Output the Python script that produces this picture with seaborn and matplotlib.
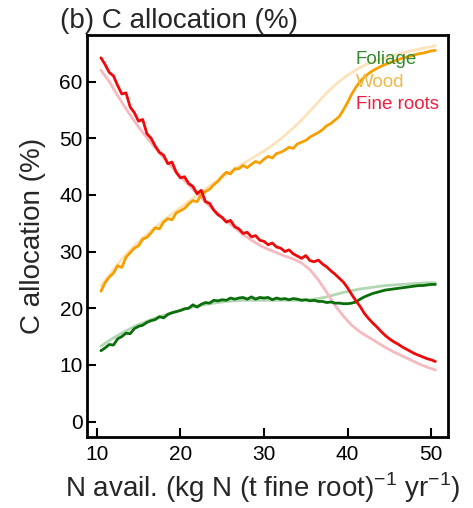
import numpy as np
import pandas as pd
import matplotlib
matplotlib.use("Agg")
import matplotlib.pyplot as plt
import seaborn as sns

# x grids
x_fine = list(np.arange(10.5, 50.51, 0.5))
x_smooth = list(np.arange(10.5, 50.51, 1.0))

fine_roots = [64.2, 63.0, 61.6, 61.0, 59.3, 57.8, 58.0, 55.5, 54.5, 53.0,
              53.3, 50.8, 50.0, 48.6, 47.5, 47.0, 45.5, 45.8, 44.0, 43.0,
              43.2, 42.0, 41.5, 40.2, 40.8, 38.8, 38.5, 37.3, 36.5, 36.0,
              35.2, 35.5, 34.4, 34.0, 33.2, 33.4, 32.6, 32.8, 32.0, 31.8,
              31.2, 31.5, 30.8, 30.6, 30.0, 30.3, 29.6, 29.2, 28.8, 29.3,
              28.4, 28.2, 28.5, 27.8, 27.3, 26.6, 26.0, 25.3, 24.6, 23.6,
              22.4, 21.3, 20.3, 19.1, 18.2, 17.4, 16.7, 15.9, 15.2, 14.6,
              14.1, 13.7, 13.2, 12.8, 12.4, 12.0, 11.7, 11.4, 11.1, 10.9,
              10.6]
wood = [23.0, 24.5, 25.5, 26.2, 27.5, 27.2, 29.0, 29.8, 30.6, 31.0,
        32.2, 32.5, 33.3, 34.2, 34.0, 35.2, 35.8, 35.6, 36.8, 37.2,
        37.6, 38.4, 39.0, 38.8, 40.0, 40.6, 41.0, 41.8, 42.4, 43.3,
        44.0, 43.7, 44.6, 44.6, 45.2, 44.8, 45.4, 45.9, 45.6, 46.3,
        46.8, 46.5, 47.3, 47.5, 47.9, 48.4, 48.2, 49.0, 49.3, 49.6,
        50.2, 50.6, 51.0, 51.5, 52.2, 52.6, 53.2, 53.8, 55.0, 56.3,
        57.8, 59.0, 60.0, 60.8, 61.4, 61.9, 62.3, 62.7, 63.0, 63.3,
        63.6, 63.8, 64.1, 64.3, 64.5, 64.7, 64.9, 65.0, 65.2, 65.4,
        65.5]
foliage = [12.5, 13.0, 13.6, 13.5, 14.6, 15.0, 15.6, 15.5, 16.4, 16.8,
           17.0, 17.5, 17.8, 18.0, 18.5, 18.3, 18.9, 19.2, 19.4, 19.6,
           19.9, 20.0, 20.6, 20.2, 20.7, 21.0, 20.9, 21.4, 21.3, 21.5,
           21.4, 21.8, 21.6, 21.8, 21.9, 21.6, 22.0, 21.6, 21.9, 21.8,
           21.9, 21.5, 21.8, 21.6, 21.7, 21.5, 21.7, 21.6, 21.4, 21.5,
           21.3, 21.4, 21.2, 21.2, 21.0, 21.1, 20.9, 20.9, 20.8, 20.8,
           20.9, 21.1, 21.6, 22.0, 22.3, 22.6, 22.8, 23.0, 23.2, 23.3,
           23.4, 23.5, 23.6, 23.7, 23.8, 23.9, 24.0, 24.0, 24.1, 24.2,
           24.2]

fine_roots_ref = [62.0, 60.0, 57.5, 55.2, 53.0, 51.0, 49.2, 47.4, 45.7, 44.0,
                  42.5, 41.0, 39.5, 38.0, 36.7, 35.4, 34.2, 33.0, 32.0, 31.1,
                  30.4, 29.8, 29.2, 28.7, 28.0, 26.8, 25.0, 22.8, 20.5, 18.6,
                  17.0, 15.8, 14.9, 14.0, 13.1, 12.3, 11.6, 10.9, 10.2, 9.6,
                  9.1]
wood_ref = [24.0, 25.8, 27.8, 29.5, 31.0, 32.4, 33.7, 34.9, 36.1, 37.2,
            38.3, 39.4, 40.5, 41.6, 42.6, 43.6, 44.6, 45.5, 46.4, 47.3,
            48.2, 49.3, 50.5, 51.8, 53.2, 54.8, 56.4, 58.0, 59.4, 60.6,
            61.6, 62.5, 63.2, 63.7, 64.2, 64.6, 65.0, 65.4, 65.7, 66.0,
            66.3]
foliage_ref = [13.3, 14.3, 15.2, 16.0, 16.8, 17.4, 18.0, 18.5, 19.0, 19.4,
               19.8, 20.2, 20.5, 20.8, 21.0, 21.2, 21.3, 21.4, 21.4, 21.4,
               21.4, 21.4, 21.4, 21.4, 21.4, 21.5, 21.7, 22.0, 22.4, 22.8,
               23.1, 23.4, 23.6, 23.8, 24.0, 24.1, 24.2, 24.3, 24.4, 24.5,
               24.5]

legend_labels = ["Foliage", "Wood", "Fine roots"]
y_ticks = [0, 10, 20, 30, 40, 50, 60]
x_ticks = [10, 20, 30, 40, 50]

sns.set_style("ticks")
plt.rcParams['font.family'] = ['Liberation Sans', 'DejaVu Sans']
plt.rcParams['mathtext.fontset'] = 'custom'
plt.rcParams['mathtext.rm'] = 'Liberation Sans'

fig = plt.figure(figsize=(4.73, 5.08), dpi=100)
ax = fig.add_axes([0.184, 0.140, 0.763, 0.791])

lw_ref = 2.0
lw = 2.0
sns.lineplot(x=x_smooth, y=wood_ref, color="#fde3bb", lw=lw_ref, ax=ax)
sns.lineplot(x=x_smooth, y=foliage_ref, color="#b3d6b3", lw=lw_ref, ax=ax)
sns.lineplot(x=x_smooth, y=fine_roots_ref, color="#f6b9c0", lw=lw_ref, ax=ax)
sns.lineplot(x=x_fine, y=wood, color="#f5a000", lw=lw, ax=ax)
sns.lineplot(x=x_fine, y=foliage, color="#0a6e0a", lw=lw, ax=ax)
sns.lineplot(x=x_fine, y=fine_roots, color="#ee0a0a", lw=lw, ax=ax)

ax.set_xlim(8.84, 52.0)
ax.set_ylim(-2.7, 68.2)
ax.set_xticks(x_ticks)
ax.set_yticks(y_ticks)
ax.tick_params(direction="in", length=6.5, width=1.5, labelsize=15, pad=3,
               colors="black")
ax.tick_params(axis="x", pad=6)
for s in ax.spines.values():
    s.set_visible(True)
    s.set_linewidth(2)
    s.set_color("black")

legend_colors = ["#2e8b2e", "#f0b848", "#ee2040"]
for i, (lab, c) in enumerate(zip(legend_labels, legend_colors)):
    ax.text(0.745, 0.938 - i * 0.055, lab, color=c, fontsize=13.5,
            transform=ax.transAxes, va="center", ha="left")

ax.set_ylabel("C allocation (%)", fontsize=20, labelpad=10)
ax.set_xlabel(r"N avail. (kg N (t fine root)$^{-1}$ yr$^{-1}$)", fontsize=20)
ax.xaxis.set_label_coords(0.488, -0.083, transform=ax.transAxes)
ax.xaxis.label.set_va("top")
fig.text(0.127, 0.985, "(b) C allocation (%)", fontsize=20, va="top", ha="left")

fig.savefig("out.png", dpi=100)
